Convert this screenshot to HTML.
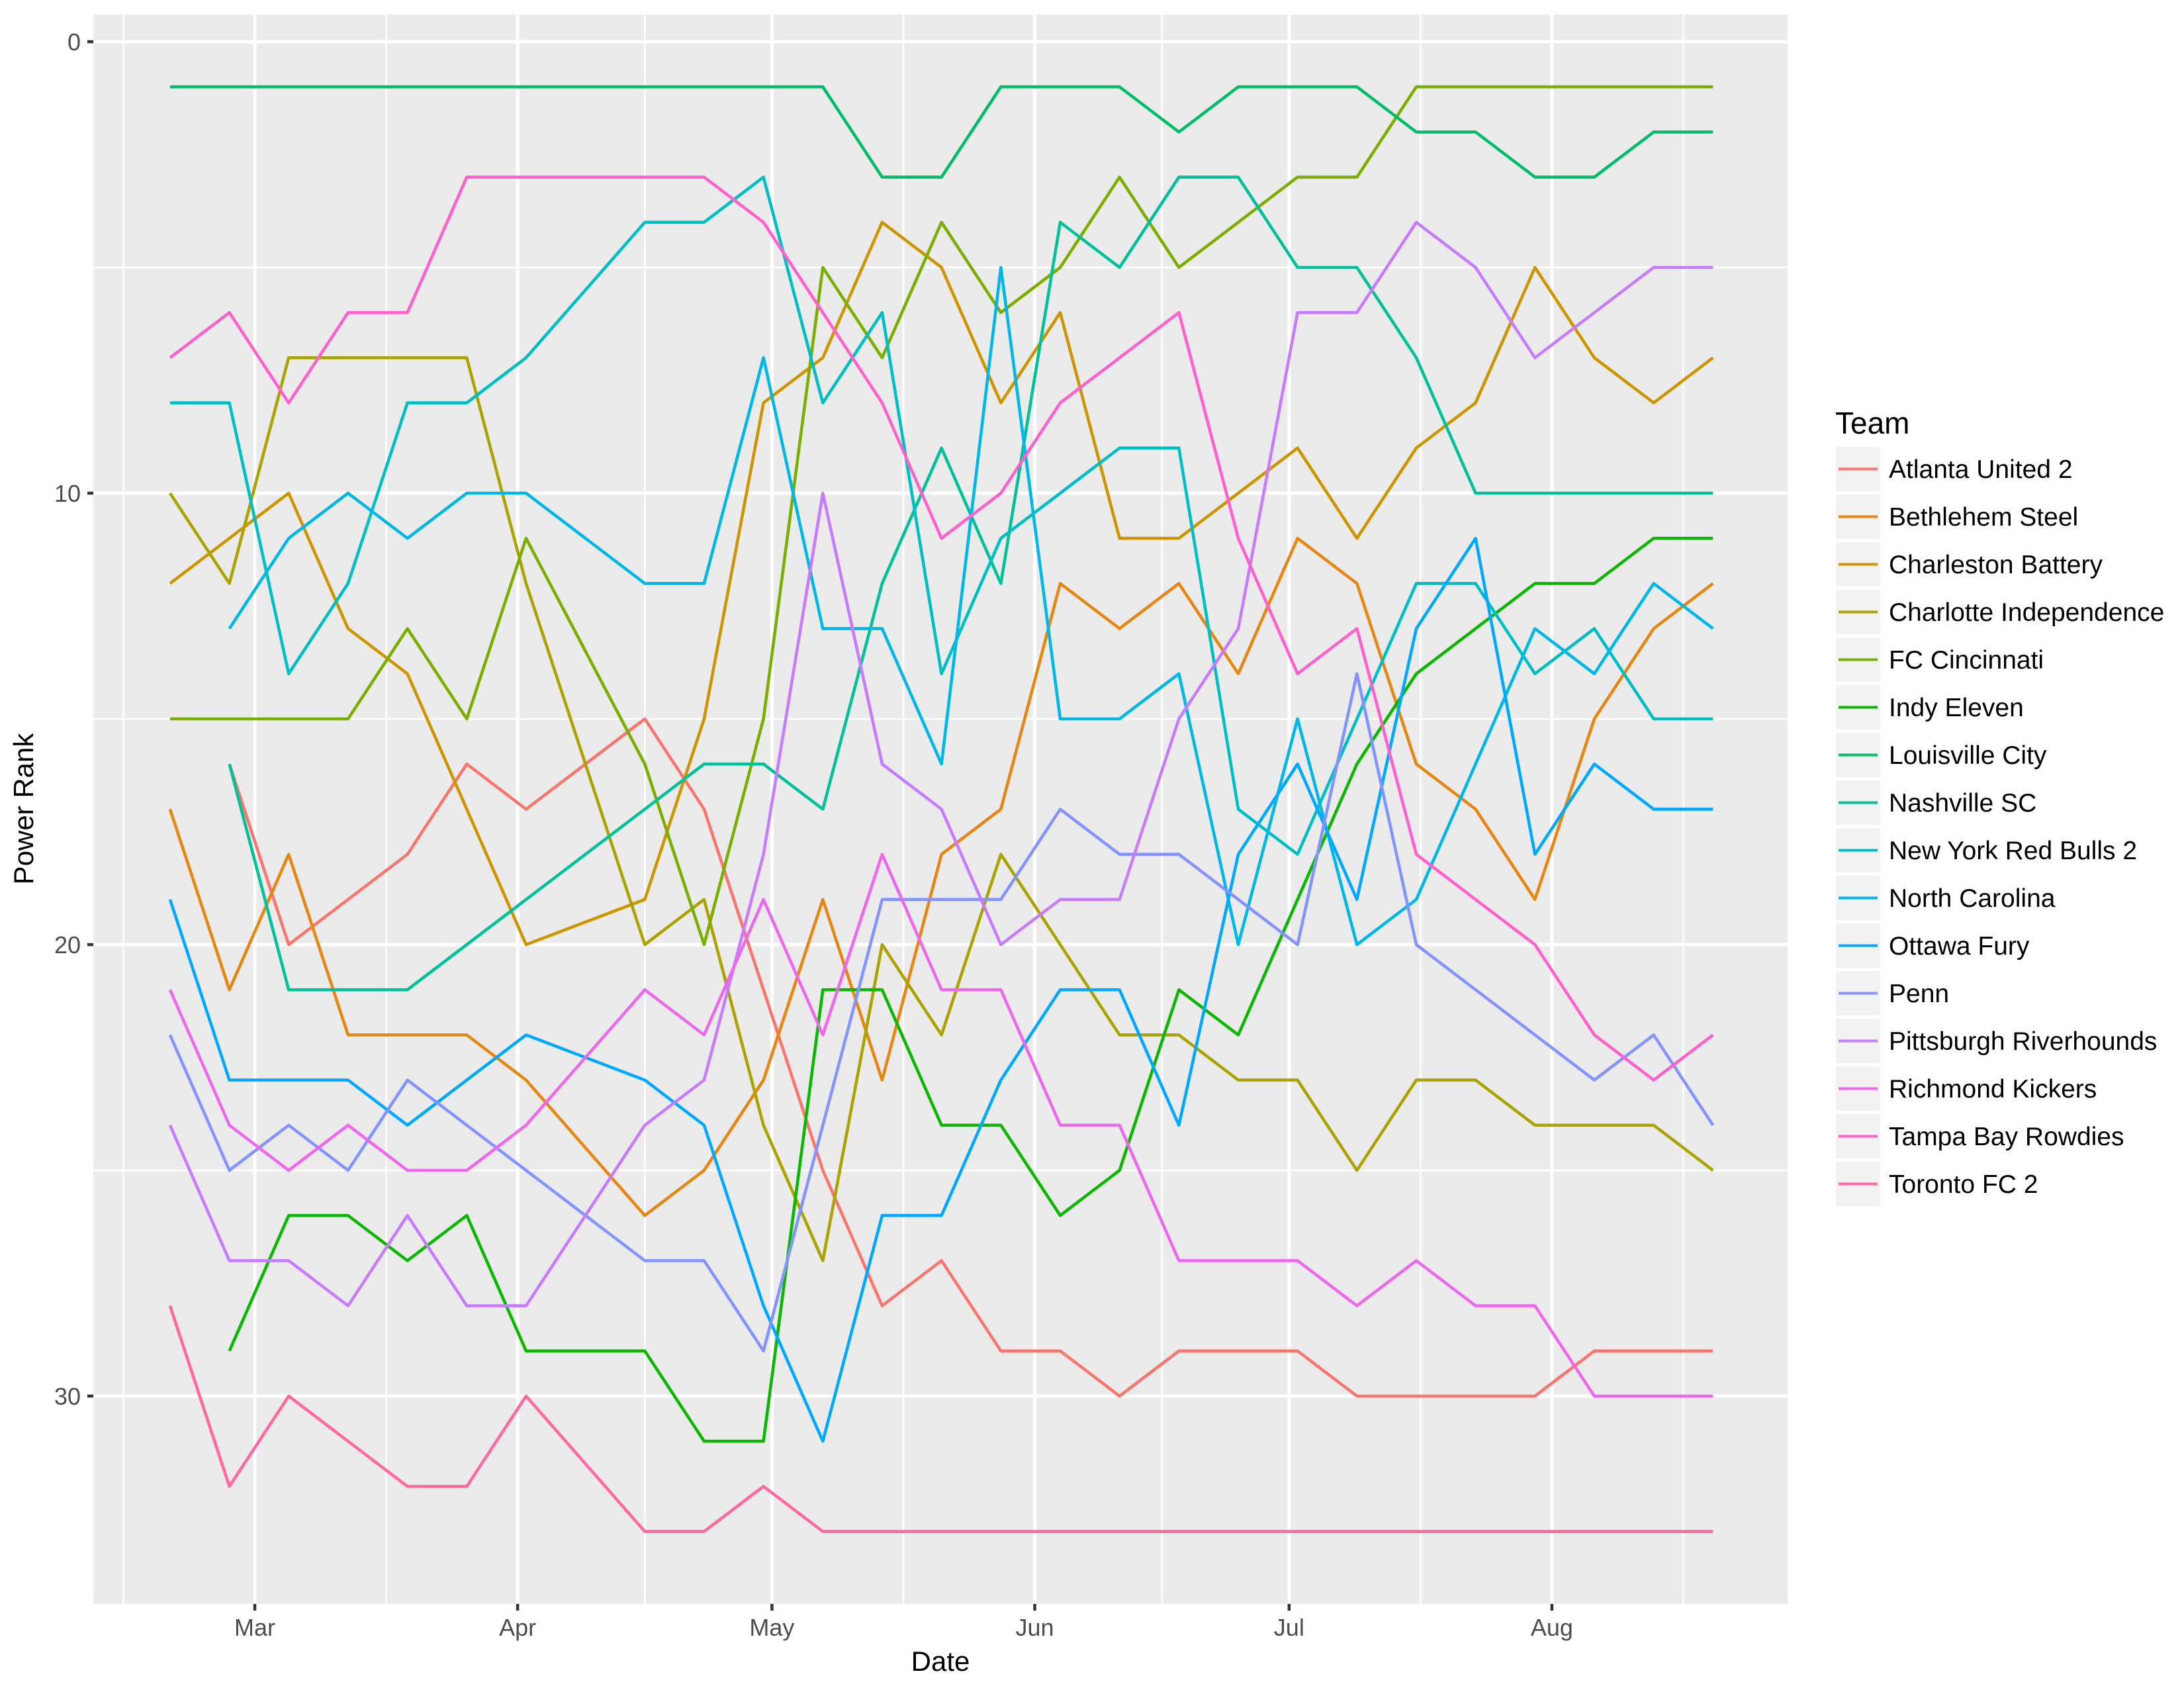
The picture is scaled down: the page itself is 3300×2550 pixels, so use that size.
<!DOCTYPE html>
<html><head><meta charset="utf-8"><style>
html,body{margin:0;padding:0;background:#fff;}
svg{display:block;font-family:"Liberation Sans",Arial,sans-serif;}
</style></head><body>
<svg id="chart" xmlns="http://www.w3.org/2000/svg" width="3300" height="2550" viewBox="0 0 3300 2550">
<rect x="0" y="0" width="3300" height="2550" fill="#ffffff"/>
<rect x="141" y="22" width="2560" height="2401" fill="#EBEBEB"/>
<g id="grid"></g>
<g id="series"></g>
<g id="axes"></g>
<text x="1421" y="2524" font-size="42" text-anchor="middle" fill="#000">Date</text>
<text transform="translate(50,1222) rotate(-90)" font-size="42" text-anchor="middle" fill="#000">Power Rank</text>
<g id="legend">
<text x="2773" y="655" font-size="46" fill="#000">Team</text>
</g>
</svg>
<script>
const teams = ["Atlanta United 2","Bethlehem Steel","Charleston Battery","Charlotte Independence","FC Cincinnati","Indy Eleven","Louisville City","Nashville SC","New York Red Bulls 2","North Carolina","Ottawa Fury","Penn","Pittsburgh Riverhounds","Richmond Kickers","Tampa Bay Rowdies","Toronto FC 2"];
const teamColors = ["#F8766D","#E68613","#CD9600","#ABA300","#7CAE00","#0CB702","#00BE67","#00C19A","#00BFC4","#00B8E7","#00A9FF","#8494FF","#C77CFF","#ED68ED","#FF61CC","#FF68A1"];
const weekDays = [-10,-3,4,11,18,25,32,39,46,53,60,67,74,81,88,95,102,109,116,123,130,137,144,151,158,165,172];
const monthTickDays = [0,31,61,92,122,153];
const monthTickLabels = ["Mar","Apr","May","Jun","Jul","Aug"];
const rankTicks = [0,10,20,30];
const rankMinor = [5,15,25];
const N = null;
const rankAtlanta = [N,16,20,19,18,16,17,N,15,17,21,25,28,27,29,29,30,29,29,29,30,30,30,30,29,29,29];
const rankBethlehem = [17,21,18,22,22,22,23,N,26,25,23,19,23,18,17,12,13,12,14,11,12,16,17,19,15,13,12];
const rankCharleston = [12,11,10,13,14,17,20,N,19,15,8,7,4,5,8,6,11,11,10,9,11,9,8,5,7,8,7];
const rankCharlotte = [10,12,7,7,7,7,12,N,20,19,24,27,20,22,18,20,22,22,23,23,25,23,23,24,24,24,25];
const rankCincinnati = [15,15,15,15,13,15,11,N,16,20,15,5,7,4,6,5,3,5,4,3,3,1,1,1,1,1,1];
const rankIndy = [N,29,26,26,27,26,29,N,29,31,31,21,21,24,24,26,25,21,22,19,16,14,13,12,12,11,11];
const rankLouisville = [1,1,1,1,1,1,1,N,1,1,1,1,3,3,1,1,1,2,1,1,1,2,2,3,3,2,2];
const rankNashville = [N,16,21,21,21,20,19,N,17,16,16,17,12,9,12,4,5,3,3,5,5,7,10,10,10,10,10];
const rankNYRB2 = [8,8,14,12,8,8,7,N,4,4,3,8,6,14,11,10,9,9,17,18,15,12,12,14,13,15,15];
const rankNorthCarolina = [N,13,11,10,11,10,10,N,12,12,7,13,13,16,5,15,15,14,20,15,20,19,16,13,14,12,13];
const rankOttawa = [19,23,23,23,24,23,22,N,23,24,28,31,26,26,23,21,21,24,18,16,19,13,11,18,16,17,17];
const rankPenn = [22,25,24,25,23,24,25,N,27,27,29,24,19,19,19,17,18,18,19,20,14,20,21,22,23,22,24];
const rankPittsburgh = [24,27,27,28,26,28,28,N,24,23,18,10,16,17,20,19,19,15,13,6,6,4,5,7,6,5,5];
const rankRichmond = [21,24,25,24,25,25,24,N,21,22,19,22,18,21,21,24,24,27,27,27,28,27,28,28,30,30,30];
const rankTampa = [7,6,8,6,6,3,3,N,3,3,4,6,8,11,10,8,7,6,11,14,13,18,19,20,22,23,22];
const rankToronto = [28,32,30,31,32,32,30,N,33,33,32,33,33,33,33,33,33,33,33,33,33,33,33,33,33,33,33];
const allRanks = [rankAtlanta,rankBethlehem,rankCharleston,rankCharlotte,rankCincinnati,rankIndy,rankLouisville,rankNashville,rankNYRB2,rankNorthCarolina,rankOttawa,rankPenn,rankPittsburgh,rankRichmond,rankTampa,rankToronto];

const NS = "http://www.w3.org/2000/svg";
const PX0 = 141, PX1 = 2701, PY0 = 22, PY1 = 2423;
function xScale(d){ return 385 + d * 12.81; }
function yScale(r){ return 63 + r * 68.2; }
function mk(tag, attrs, parent){ const e = document.createElementNS(NS, tag); for (const k in attrs) e.setAttribute(k, attrs[k]); parent.appendChild(e); return e; }

const grid = document.getElementById('grid');
const minorX = [];
minorX.push(monthTickDays[0] - (monthTickDays[1]-monthTickDays[0])/2);
for (let i=0;i<monthTickDays.length-1;i++) minorX.push((monthTickDays[i]+monthTickDays[i+1])/2);
minorX.push(monthTickDays[monthTickDays.length-1] + 15.5);
minorX.forEach(d => { const x = xScale(d); if (x>PX0 && x<PX1) {
  const l = mk('line',{x1:x,x2:x,y1:PY0,y2:PY1,stroke:'#fff','stroke-width':2.5},grid);
  
   }});
rankMinor.forEach(r => { const y = yScale(r);
  const l = mk('line',{x1:PX0,x2:PX1,y1:y,y2:y,stroke:'#fff','stroke-width':2.5},grid);
  
   });
monthTickDays.forEach(d => { const x = xScale(d);
  const l = mk('line',{x1:x,x2:x,y1:PY0,y2:PY1,stroke:'#fff','stroke-width':5},grid);
  
   });
rankTicks.forEach(r => { const y = yScale(r);
  const l = mk('line',{x1:PX0,x2:PX1,y1:y,y2:y,stroke:'#fff','stroke-width':5},grid);
  
   });

const series = document.getElementById('series');
allRanks.forEach((vals, i) => {
  const pts = [];
  vals.forEach((v, j) => { if (v !== null) pts.push(xScale(weekDays[j]).toFixed(1)+','+yScale(v).toFixed(1)); });
  const p = mk('polyline',{points:pts.join(' '),fill:'none',stroke:teamColors[i],'stroke-width':4.6,'stroke-linejoin':'round'},series);
  
  
});

const axes = document.getElementById('axes');
rankTicks.forEach((r,i) => { const y = yScale(r);
  const t = mk('line',{x1:132,x2:141,y1:y,y2:y,stroke:'#333','stroke-width':4.5},axes);
  
  
  const tx = mk('text',{x:122,y:y+13,'font-size':36,'text-anchor':'end',fill:'#4D4D4D'},axes);
  tx.textContent = String(r);
  
   });
monthTickDays.forEach((d,i) => { const x = xScale(d);
  const t = mk('line',{x1:x,x2:x,y1:PY1,y2:PY1+10,stroke:'#333','stroke-width':4.5},axes);
  
  
  const tx = mk('text',{x:x,y:2471,'font-size':36,'text-anchor':'middle',fill:'#4D4D4D'},axes);
  tx.textContent = monthTickLabels[i];
  
   });

const legend = document.getElementById('legend');
teams.forEach((name,i) => {
  const top = 675 + i*72;
  const g = mk('g',{},legend);
  
  
  const k = mk('rect',{x:2774,y:top,width:67,height:67,fill:'#F2F2F2'},g);
  
  
  const l = mk('line',{x1:2778,x2:2837,y1:top+33.5,y2:top+33.5,stroke:teamColors[i],'stroke-width':4},g);
  
  
  const t = mk('text',{x:2854,y:top+47,'font-size':39,fill:'#000'},g);
  t.textContent = name;
  
  
});
</script>
</body></html>
